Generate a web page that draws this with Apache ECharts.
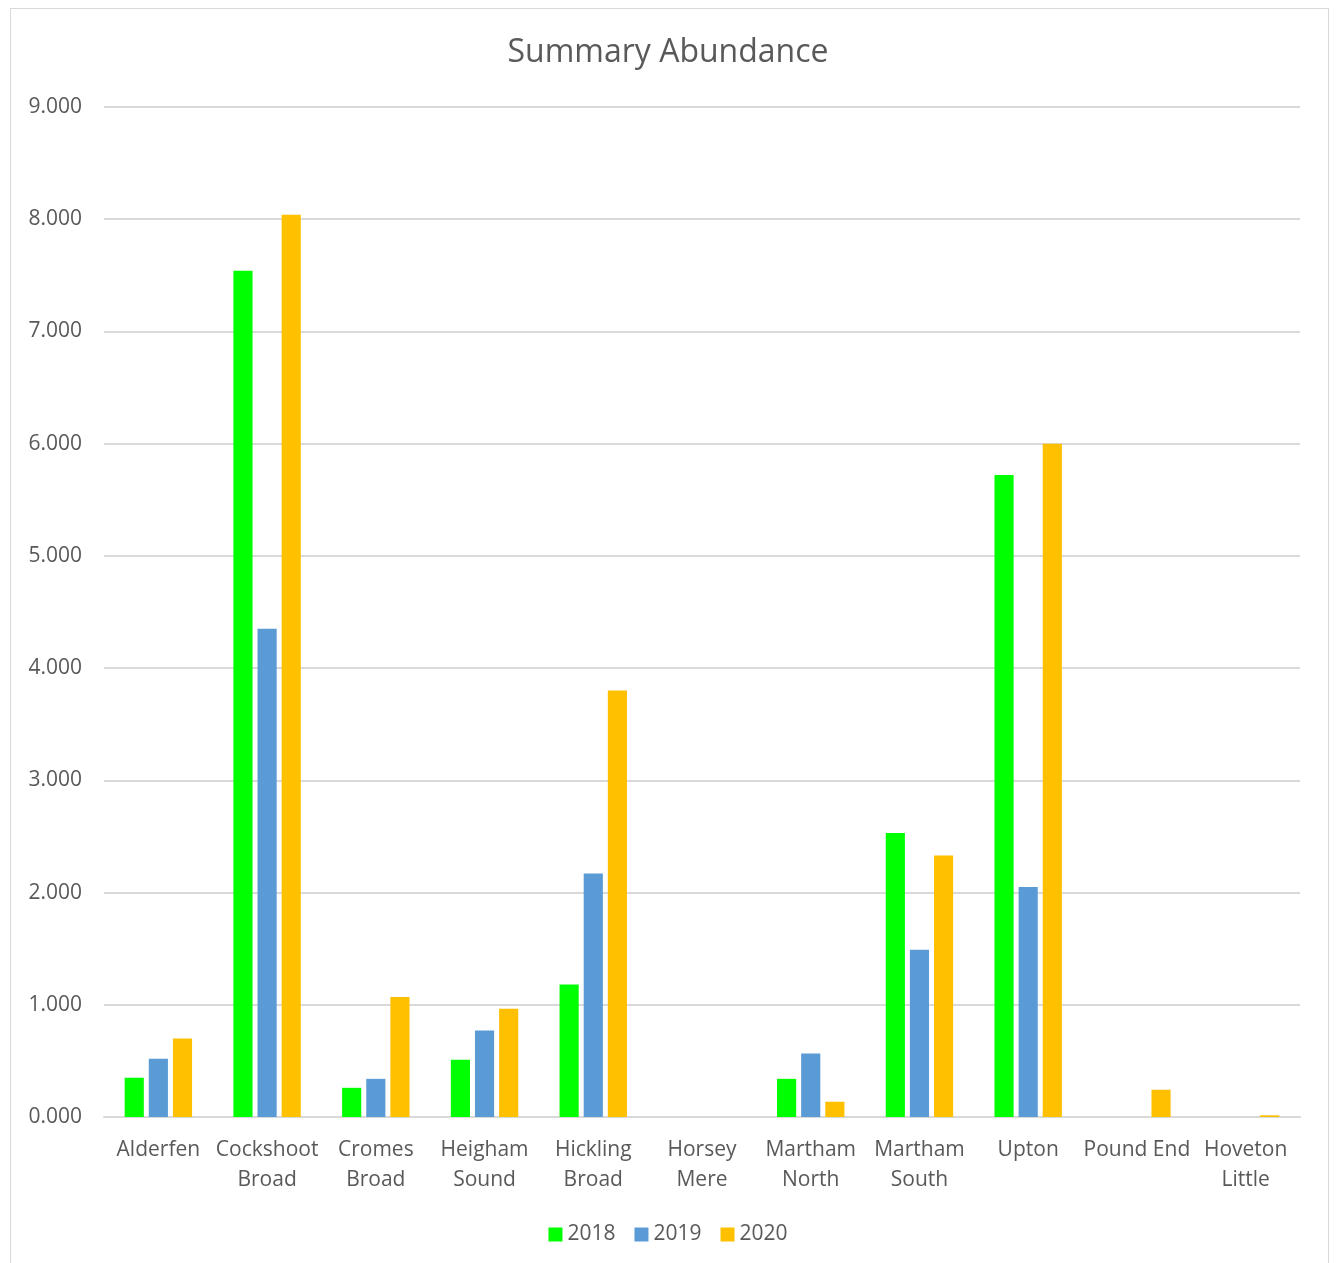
<!DOCTYPE html>
<html>
<head>
<meta charset="utf-8">
<script src="https://cdn.jsdelivr.net/npm/echarts@6/dist/echarts.min.js"></script>
<style>
  html, body { margin: 0; padding: 0; background: #ffffff; }
  #frame { position: absolute; left: 10px; top: 8px; width: 1319px; height: 1280px; border: 1px solid #d9d9d9; box-sizing: border-box; }
  #chart { position: absolute; left: 0; top: 0; width: 1336px; height: 1263px; }
</style>
</head>
<body>
<div id="frame"></div>
<div id="chart"></div>
<script>
// Sites surveyed
const sites = ['Alderfen', 'Cockshoot\nBroad', 'Cromes\nBroad', 'Heigham\nSound', 'Hickling\nBroad',
  'Horsey\nMere', 'Martham\nNorth', 'Martham\nSouth', 'Upton', 'Pound End', 'Hoveton\nLittle'];

// Summary abundance by year
const y2018 = [0.35, 7.54, 0.26, 0.51, 1.18, 0, 0.34, 2.53, 5.72, 0, 0];
const y2019 = [0.52, 4.35, 0.34, 0.77, 2.17, 0, 0.565, 1.49, 2.05, 0, 0];
const y2020 = [0.70, 8.04, 1.07, 0.965, 3.80, 0, 0.136, 2.33, 6.00, 0.243, 0.015];

const yTicks = { min: 0, max: 9, interval: 1 };

const textColor = '#595959';
const font = 'Open Sans';

const chart = echarts.init(document.getElementById('chart'));
const bar = (name, data, color) => ({
  name, type: 'bar', data,
  barGap: '26%', barCategoryGap: '38%',
  itemStyle: { color },
  emphasis: { disabled: true }
});

chart.setOption({
  animation: false,
  title: {
    text: 'Summary Abundance', left: 'center', top: 32,
    textStyle: { color: textColor, fontSize: 32, fontWeight: 'normal', fontFamily: font }
  },
  legend: {
    top: 1219, left: 'center', itemWidth: 14, itemHeight: 14, itemGap: 19,
    icon: 'rect',
    textStyle: { color: textColor, fontSize: 21, fontFamily: font },
    data: ['2018', '2019', '2020']
  },
  grid: { left: 104, right: 36, top: 107, bottom: 146 },
  xAxis: {
    type: 'category', data: sites,
    axisLine: { lineStyle: { color: '#d9d9d9', width: 2 } },
    axisTick: { show: false },
    axisLabel: { color: textColor, fontSize: 21, fontFamily: font, lineHeight: 30, margin: 18, interval: 0 }
  },
  yAxis: {
    type: 'value', min: yTicks.min, max: yTicks.max, interval: yTicks.interval,
    axisLine: { show: false }, axisTick: { show: false },
    splitLine: { lineStyle: { color: '#d9d9d9', width: 2 } },
    axisLabel: { color: textColor, fontSize: 21, fontFamily: font, margin: 22, formatter: v => v.toFixed(3) }
  },
  series: [
    bar('2018', y2018, '#00ff00'),
    bar('2019', y2019, '#5b9bd5'),
    bar('2020', y2020, '#ffc000')
  ]
});
</script>
</body>
</html>
